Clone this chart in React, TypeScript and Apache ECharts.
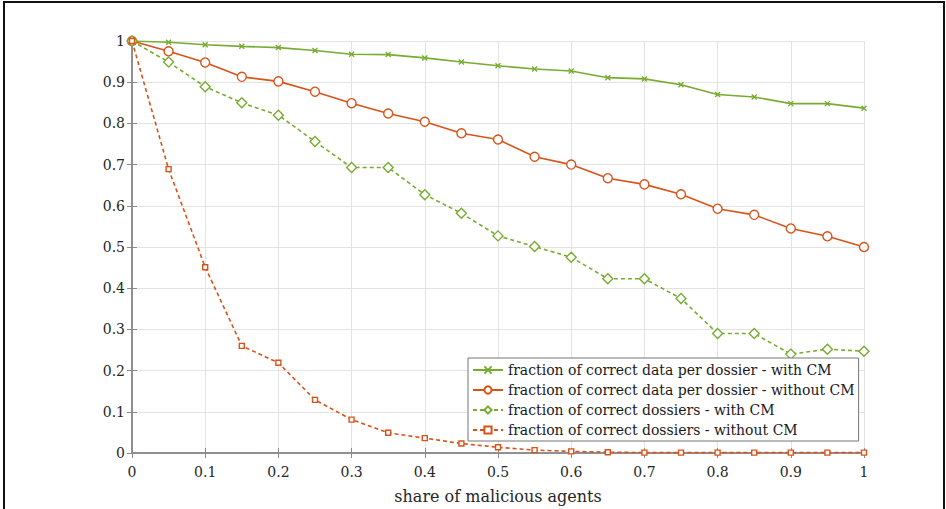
import React, { useEffect, useRef } from "react";
import * as echarts from "echarts";

const xValues = [0, 0.05, 0.1, 0.15, 0.2, 0.25, 0.3, 0.35, 0.4, 0.45, 0.5, 0.55, 0.6, 0.65, 0.7, 0.75, 0.8, 0.85, 0.9, 0.95, 1];

const dataWithCM = [1, 0.997, 0.991, 0.987, 0.984, 0.977, 0.968, 0.967, 0.959, 0.949, 0.94, 0.932, 0.927, 0.911, 0.908, 0.894, 0.87, 0.864, 0.848, 0.848, 0.837];
const dataWithoutCM = [1, 0.975, 0.948, 0.913, 0.902, 0.877, 0.849, 0.824, 0.804, 0.776, 0.761, 0.719, 0.7, 0.667, 0.652, 0.628, 0.593, 0.578, 0.545, 0.526, 0.5];
const dossiersWithCM = [1, 0.949, 0.889, 0.85, 0.82, 0.756, 0.693, 0.693, 0.627, 0.582, 0.527, 0.501, 0.475, 0.423, 0.423, 0.375, 0.29, 0.29, 0.24, 0.252, 0.247];
const dossiersWithoutCM = [1, 0.689, 0.451, 0.26, 0.219, 0.129, 0.081, 0.049, 0.036, 0.023, 0.014, 0.007, 0.004, 0.002, 0.001, 0.001, 0.001, 0.001, 0.001, 0.001, 0.001];

const seriesNames = [
  "fraction of correct data per dossier - with CM",
  "fraction of correct data per dossier - without CM",
  "fraction of correct dossiers - with CM",
  "fraction of correct dossiers - without CM",
];

const GREEN = "#77AC30";
const ORANGE = "#D95319";
const FONT = "DejaVu Serif";
const AXIS_COLOR = "#8a8a8a";

const pairs = (ys: number[]) => xValues.map((x, i) => [x, ys[i]]);

export default function App() {
  const ref = useRef<HTMLDivElement>(null);
  useEffect(() => {
    if (!ref.current) return;
    const chart = echarts.init(ref.current, undefined, { renderer: "svg" });
    const axisCommon = {
      type: "value" as const,
      min: 0,
      max: 1,
      interval: 0.1,
      axisLine: { show: true, lineStyle: { color: AXIS_COLOR, width: 1.5 } },
      axisTick: { show: true, inside: true, length: 5, lineStyle: { color: AXIS_COLOR, width: 1 } },
    };
    const mk = (name: string, ys: number[], color: string, dashed: boolean, symbol: string, size: number) => ({
      type: "line",
      name,
      data: pairs(ys),
      symbol,
      symbolSize: size,
      showAllSymbol: true,
      lineStyle: { color, width: 1.6, type: dashed ? [4, 3] : "solid" },
      itemStyle: { color: "#ffffff", borderColor: color, borderWidth: 1.4 },
      emphasis: { disabled: true },
      z: 3,
    });
    chart.setOption({
      animation: false,
      backgroundColor: "#ffffff",
      textStyle: { fontFamily: FONT },
      grid: { left: 132, right: 82, top: 41, bottom: 55, containLabel: false },
      xAxis: [
        {
          ...axisCommon,
          position: "bottom",
          name: "share of malicious agents",
          nameLocation: "middle",
          nameGap: 35,
          nameTextStyle: { fontFamily: FONT, fontSize: 16, color: "#262626" },
          axisLabel: { fontFamily: FONT, fontSize: 14, color: "#262626", margin: 12 },
          splitLine: { show: true, lineStyle: { color: "#e3e3e3", width: 1 } },
        },
        {
          ...axisCommon,
          position: "top",
          axisLabel: { show: false },
          splitLine: { show: false },
        },
      ],
      yAxis: [
        {
          ...axisCommon,
          position: "left",
          axisLabel: { fontFamily: FONT, fontSize: 14, color: "#262626", margin: 7 },
          splitLine: { show: true, lineStyle: { color: "#e3e3e3", width: 1 } },
        },
        {
          ...axisCommon,
          position: "right",
          axisLabel: { show: false },
          splitLine: { show: false },
        },
      ],
      legend: {
        orient: "vertical",
        left: 468,
        top: 358,
        itemWidth: 30,
        itemHeight: 9,
        itemGap: 2,
        padding: [3, 4, 2, 4],
        backgroundColor: "#ffffff",
        borderColor: "#777777",
        borderWidth: 1,
        borderRadius: 0,
        textStyle: { fontFamily: FONT, fontSize: 14, color: "#1a1a1a", lineHeight: 18 },
        data: seriesNames,
      },
      graphic: [
        {
          type: "rect",
          shape: { x: 4, y: 2, width: 940, height: 520 },
          style: { fill: "none", stroke: "#111111", lineWidth: 2 },
          silent: true,
          z: 100,
        },
      ],
      series: [
        mk(seriesNames[0], dataWithCM, GREEN, false, "path://M0,0L10,10M10,0L0,10", 5),
        mk(seriesNames[1], dataWithoutCM, ORANGE, false, "circle", 9),
        mk(seriesNames[2], dossiersWithCM, GREEN, true, "diamond", 10),
        mk(seriesNames[3], dossiersWithoutCM, ORANGE, true, "rect", 5),
      ],
    });
    return () => chart.dispose();
  }, []);
  return (
    <div
      ref={ref}
      style={{ position: "fixed", left: 0, top: 0, width: 946, height: 509, background: "#fff" }}
    />
  );
}
